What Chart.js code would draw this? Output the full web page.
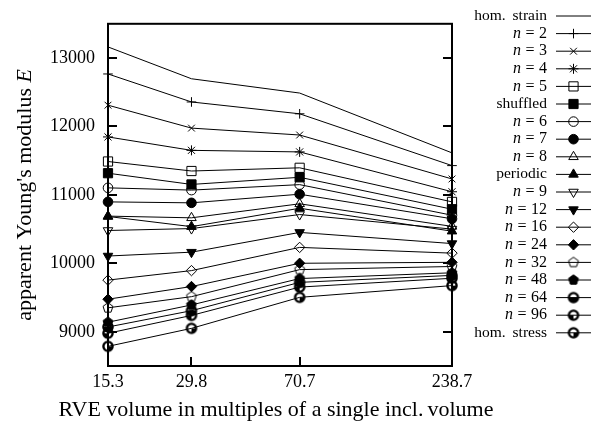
<!DOCTYPE html>
<html>
<head>
<meta charset="utf-8">
<script src="https://cdn.jsdelivr.net/npm/chart.js@4/dist/chart.umd.min.js"></script>
<style>
  html, body { margin: 0; padding: 0; background: #fff; }
  canvas { display: block; }
</style>
</head>
<body>
<canvas id="grafico" width="602" height="426"></canvas>
<script>
// volúmenes del RVE (eje x logarítmico)
const rveVolumes = [15.3, 29.8, 70.7, 238.7];
const yTicks = [9000, 10000, 11000, 12000, 13000];

// módulo de Young aparente por serie
const homStrain = [13162, 12697, 12488, 11614];
const n2 = [12767, 12358, 12185, 11428];
const n3 = [12311, 11976, 11875, 11233];
const n4 = [11847, 11651, 11628, 11046];
const n5 = [11488, 11349, 11396, 10898];
const shuffled = [11317, 11153, 11257, 10791];
const n6 = [11103, 11070, 11150, 10703];
const n7 = [10898, 10884, 11010, 10651];
const n8 = [10690, 10665, 10870, 10540];
const periodic = [10685, 10536, 10805, 10470];
const n9 = [10480, 10508, 10713, 10500];
const n12 = [10107, 10163, 10452, 10289];
const n16 = [9755, 9894, 10233, 10149];
const n24 = [9476, 9661, 10001, 10015];
const n32 = [9350, 9513, 9908, 9954];
const n48 = [9140, 9392, 9778, 9862];
const n64 = [9070, 9308, 9722, 9824];
const n96 = [8978, 9239, 9653, 9782];
const homStress = [8787, 9050, 9503, 9675];

const serif = "'Liberation Serif', 'DejaVu Serif', serif";

// marcadores hechos a mano (pentágono y círculos gruesos)
function hacerMarcador(dibujar) {
  const c = document.createElement('canvas');
  c.width = 14; c.height = 14;
  const g = c.getContext('2d');
  g.translate(7, 7);
  g.strokeStyle = '#000';
  g.fillStyle = '#000';
  dibujar(g);
  return c;
}
function pentagono(relleno) {
  return hacerMarcador(g => {
    g.beginPath();
    for (let k = 0; k < 5; k++) {
      const a = -Math.PI / 2 + k * 2 * Math.PI / 5;
      const px = Math.cos(a) * 5.2, py = Math.sin(a) * 5.2;
      if (k === 0) g.moveTo(px, py); else g.lineTo(px, py);
    }
    g.closePath();
    g.lineWidth = 1;
    if (relleno) g.fill();
    g.stroke();
  });
}
function aro(desde, hasta) {
  return hacerMarcador(g => {
    g.beginPath();
    g.moveTo(0, 0);
    g.arc(0, 0, 4.2, desde, hasta);
    g.closePath();
    g.fill();
    g.beginPath();
    g.arc(0, 0, 4.6, 0, Math.PI * 2);
    g.lineWidth = 2.4;
    g.stroke();
  });
}

const series = [
  { label: 'hom. strain', data: homStrain, style: false },
  { label: 'n = 2', data: n2, style: 'cross', r: 4.8 },
  { label: 'n = 3', data: n3, style: 'crossRot', r: 4.8 },
  { label: 'n = 4', data: n4, style: 'star', r: 5 },
  { label: 'n = 5', data: n5, style: 'rect', r: 6.5 },
  { label: 'shuffled', data: shuffled, style: 'rect', r: 6.5, fill: true },
  { label: 'n = 6', data: n6, style: 'circle', r: 4.8 },
  { label: 'n = 7', data: n7, style: 'circle', r: 4.8, fill: true },
  { label: 'n = 8', data: n8, style: 'triangle', r: 5.5 },
  { label: 'periodic', data: periodic, style: 'triangle', r: 5.5, fill: true },
  { label: 'n = 9', data: n9, style: 'triangle', r: 5.5, rot: 180 },
  { label: 'n = 12', data: n12, style: 'triangle', r: 5.5, rot: 180, fill: true },
  { label: 'n = 16', data: n16, style: 'rectRot', r: 5.2 },
  { label: 'n = 24', data: n24, style: 'rectRot', r: 5.2, fill: true },
  { label: 'n = 32', data: n32, style: pentagono(false), r: 6 },
  { label: 'n = 48', data: n48, style: pentagono(true), r: 6 },
  { label: 'n = 64', data: n64, style: aro(0, Math.PI), r: 6 },
  { label: 'n = 96', data: n96, style: aro(Math.PI / 2, Math.PI), r: 6 },
  { label: 'hom. stress', data: homStress, style: aro(0, Math.PI / 2), r: 6 }
];

// escribe trozos de texto seguidos [fuente, texto, espacio extra]
function anchoTrozos(ctx, trozos) {
  let w = 0;
  trozos.forEach(t => { ctx.font = t[0]; w += ctx.measureText(t[1]).width + (t[2] || 0); });
  return w;
}
function escribirTrozos(ctx, trozos, x, y) {
  trozos.forEach(t => {
    ctx.font = t[0];
    ctx.fillText(t[1], x, y);
    x += ctx.measureText(t[1]).width + (t[2] || 0);
  });
}

// marco, marcas hacia adentro, títulos y leyenda a mano
const marcoYLeyenda = {
  id: 'marcoYLeyenda',
  afterDatasetsDraw(chart) {
    const { ctx, chartArea: a, scales } = chart;
    ctx.save();
    ctx.strokeStyle = '#000';
    ctx.lineWidth = 2;
    ctx.strokeRect(a.left, a.top, a.right - a.left, a.bottom - a.top);
    const largo = 9;
    ctx.beginPath();
    yTicks.forEach(v => {
      const y = Math.round(scales.y.getPixelForValue(v));
      ctx.moveTo(a.left, y); ctx.lineTo(a.left + largo, y);
      ctx.moveTo(a.right, y); ctx.lineTo(a.right - largo, y);
    });
    rveVolumes.forEach(v => {
      const x = Math.round(scales.x.getPixelForValue(v));
      ctx.moveTo(x, a.bottom); ctx.lineTo(x, a.bottom - largo);
    });
    ctx.stroke();

    ctx.fillStyle = '#000';
    ctx.textBaseline = 'middle';
    ctx.textAlign = 'left';

    // título eje x (sin maxWidth para que no se encoja)
    const tx = [['22px ' + serif, 'RVE volume in multiples of a single incl.', 4], ['22px ' + serif, 'volume']];
    escribirTrozos(ctx, tx, (a.left + a.right) / 2 - 4 - anchoTrozos(ctx, tx) / 2, 410);

    // título eje y con la E en cursiva
    const ty = [['22px ' + serif, "apparent Young's modulus", 5.5], ['italic 22px ' + serif, 'E']];
    ctx.save();
    ctx.translate(25, (a.top + a.bottom) / 2);
    ctx.rotate(-Math.PI / 2);
    escribirTrozos(ctx, ty, -anchoTrozos(ctx, ty) / 2, 0);
    ctx.restore();

    // leyenda
    const xTexto = 547, x0 = 556, x1 = 591;
    const f = '15.5px ' + serif;
    chart.data.datasets.forEach((ds, i) => {
      const y = 16 + 17.6 * i;
      let trozos;
      if (ds.label.startsWith('n = ')) {
        trozos = [['italic 16px ' + serif, 'n', 4.5], ['16px ' + serif, '=', 4.5], ['16px ' + serif, ds.label.slice(4)]];
      } else if (ds.label.startsWith('hom. ')) {
        trozos = [[f, 'hom.', 7], [f, ds.label.slice(5)]];
      } else {
        trozos = [[f, ds.label]];
      }
      ctx.fillStyle = '#000';
      escribirTrozos(ctx, trozos, xTexto - anchoTrozos(ctx, trozos), y);

      ctx.lineWidth = 1;
      ctx.beginPath();
      ctx.moveTo(x0, y); ctx.lineTo(x1, y);
      ctx.stroke();
      if (ds.pointStyle) {
        ctx.fillStyle = ds.pointBackgroundColor;
        ctx.strokeStyle = '#000';
        ctx.lineWidth = 1;
        Chart.helpers.drawPoint(ctx, {
          pointStyle: ds.pointStyle,
          radius: ds.pointRadius,
          rotation: ds.pointRotation || 0,
          borderWidth: 1
        }, (x0 + x1) / 2, y);
      }
    });
    ctx.restore();
  }
};

new Chart(document.getElementById('grafico'), {
  type: 'line',
  data: {
    datasets: series.map(s => ({
      label: s.label,
      data: rveVolumes.map((v, i) => ({ x: v, y: s.data[i] })),
      borderColor: '#000',
      borderWidth: 1,
      tension: 0,
      fill: false,
      clip: false,
      pointStyle: s.style,
      pointRadius: s.style ? s.r : 0,
      pointRotation: s.rot || 0,
      pointBorderWidth: 1,
      pointBorderColor: '#000',
      pointBackgroundColor: s.fill ? '#000' : 'rgba(0,0,0,0)'
    }))
  },
  options: {
    responsive: false,
    animation: false,
    devicePixelRatio: 1,
    layout: { padding: { top: 7, right: 150, left: 0, bottom: 0 } },
    plugins: { legend: { display: false }, tooltip: { enabled: false } },
    scales: {
      x: {
        type: 'logarithmic',
        min: 15.3,
        max: 238.7,
        grid: { display: false, drawTicks: false },
        border: { display: false },
        afterBuildTicks: s => { s.ticks = rveVolumes.map(v => ({ value: v })); },
        afterFit: s => { s.height = 60; },
        ticks: {
          color: '#000',
          padding: 5,
          maxRotation: 0,
          font: { family: serif, size: 18 },
          callback: v => v.toFixed(1)
        },
        title: { display: false }
      },
      y: {
        min: 8500,
        max: 13500,
        grid: { display: false, drawTicks: false },
        border: { display: false },
        afterBuildTicks: s => { s.ticks = yTicks.map(v => ({ value: v })); },
        afterFit: s => { s.width = 108; },
        ticks: {
          color: '#000',
          padding: 13,
          font: { family: serif, size: 18 },
          callback: v => String(v)
        },
        title: { display: false }
      }
    }
  },
  plugins: [marcoYLeyenda]
});
</script>
</body>
</html>
